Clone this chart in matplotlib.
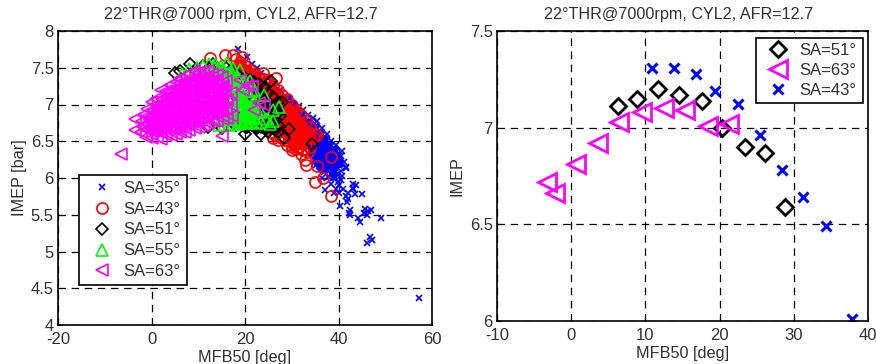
import matplotlib
matplotlib.use("Agg")
import matplotlib.pyplot as plt

plt.rcParams["font.family"] = ["Liberation Sans", "DejaVu Sans"]
plt.rcParams["text.color"] = "#303030"
plt.rcParams["axes.labelcolor"] = "#303030"

# left panel (clouds are estimates)
sa35_x = [18.5, 20.5, 21.5, 22.5, 23.5, 24.5, 25.5, 26.5, 27.5, 28.5, 29.5, 30.5, 31.5, 32.5, 33.5, 34.5, 35.5,
          36.5, 37.5, 38.5, 39.5, 40.5,
          30.5, 31.5, 32.5, 33.5, 34.5, 35.5, 36.5, 37.5, 38.5, 39.5, 40.2, 41.2,
          32.2, 33.2, 34.2, 35.2, 36.2, 37.2, 38.2, 39.2, 40.2,
          33.1, 34.1, 35.1, 36.1, 37.1, 38.1, 39.1,
          33.6, 34.6, 35.6, 36.6, 37.6, 38.6, 39.6, 40.6,
          34.3, 35.3, 36.3, 37.3, 38.3, 39.3, 40.3,
          34.8, 35.8, 36.8, 37.8, 38.8, 39.8, 40.8, 41.6,
          35.6, 36.6, 37.6, 38.6, 39.6, 40.6,
          35.2, 36.5, 37.2, 38.0, 38.4, 39.0, 39.5, 40.0, 40.1, 40.4, 41.0, 41.5,
          41.8, 42.0, 42.2, 42.4, 42.5, 43.0, 43.1, 43.5, 43.8, 44.2, 44.6, 45.0, 45.5, 45.7, 46.2, 46.4, 47.0, 46.2,
          46.8, 47.1, 49.0, 57.2, 40.8, 41.6, 42.0, 43.2]
sa35_y = [7.76, 7.65, 7.55, 7.5, 7.43, 7.38, 7.32, 7.25, 7.2, 7.12, 7.05, 7.0, 6.98, 6.92, 6.86, 6.82, 6.78,
          6.68, 6.6, 6.5, 6.45, 6.3,
          6.95, 6.88, 6.82, 6.76, 6.72, 6.66, 6.58, 6.52, 6.44, 6.36, 6.3, 6.22,
          6.75, 6.66, 6.6, 6.52, 6.45, 6.4, 6.33, 6.25, 6.18,
          6.62, 6.54, 6.46, 6.38, 6.3, 6.22, 6.15,
          6.5, 6.42, 6.34, 6.26, 6.18, 6.1, 6.05, 6.1,
          6.36, 6.28, 6.2, 6.12, 6.05, 6.0, 6.2,
          6.25, 6.16, 6.08, 6.02, 6.0, 5.94, 6.03, 6.13,
          6.45, 6.55, 6.45, 6.35, 6.28, 5.97,
          6.18, 6.0, 5.83, 6.02, 5.92, 5.8, 5.85, 5.9, 5.8, 5.62, 5.85, 5.76,
          5.67, 5.72, 5.53, 5.5, 5.57, 5.85, 5.92, 5.78, 5.9, 5.45, 5.4, 5.78, 5.52, 5.58, 5.5, 5.55, 5.56, 5.12,
          5.2, 5.15, 5.46, 4.37, 6.37, 6.15, 5.8, 5.86]
# densest part of each cloud
sa35_core_x = [29, 30, 31, 32, 33, 33, 34, 34, 34, 35, 35, 35, 35, 36, 36, 36, 36, 36, 37, 37, 37, 37, 37,
               38, 38, 38, 38, 39, 39, 39, 39, 40, 33.5, 34.5, 35.5, 36.5, 37.5, 38.5]
sa35_core_y = [7.08, 7.0, 6.9, 6.85, 6.75, 6.65, 6.72, 6.62, 6.52, 6.68, 6.58, 6.48, 6.38, 6.6, 6.5, 6.4, 6.3, 6.2,
               6.52, 6.42, 6.32, 6.22, 6.12, 6.45, 6.35, 6.25, 6.15, 6.38, 6.28, 6.18, 6.08, 6.2,
               6.45, 6.35, 6.25, 6.15, 6.3, 6.2]

sa43_x = [12.5, 15.7, 17.5, 19.3, 23.8, 26.7, 38.5, 38.3, 35.0, 36.7, 35.4, 33.0, 32.8, 32.5, 30.0,
          18.0, 19.0, 20.0, 21.0, 22.0, 23.0, 24.0, 25.0, 26.0, 27.0, 28.0, 29.0, 30.0, 31.0, 32.0, 33.0, 34.0, 35.0,
          19.5, 20.5, 21.5, 22.5, 23.5, 24.5, 25.5, 26.5, 27.5, 28.5, 29.5, 30.5, 31.5, 32.5, 33.5, 34.5, 35.5,
          21.0, 22.0, 23.0, 24.0, 25.0, 26.0, 27.0, 28.0, 29.0, 30.0, 31.0, 32.0, 33.0, 34.0,
          24.5, 25.5, 26.5, 27.5, 28.5, 29.5, 30.5, 31.5, 32.5, 33.5,
          26.0, 27.0, 28.0, 29.0, 30.0, 31.0, 32.0, 27.5, 28.5, 29.5, 30.5, 31.5, 30.8, 31.8]
sa43_y = [7.63, 7.68, 7.68, 7.65, 7.43, 7.36, 6.29, 5.75, 5.95, 6.0, 6.17, 6.18, 6.25, 6.4, 6.38,
          7.62, 7.58, 7.52, 7.47, 7.42, 7.38, 7.35, 7.3, 7.25, 7.2, 7.13, 7.07, 7.0, 6.93, 6.86, 6.78, 6.7, 6.6,
          7.45, 7.38, 7.3, 7.22, 7.15, 7.1, 7.02, 6.97, 6.95, 6.9, 6.85, 6.8, 6.72, 6.66, 6.62, 6.56, 6.58,
          7.05, 6.98, 6.92, 6.88, 6.82, 6.75, 6.7, 6.68, 6.66, 6.62, 6.55, 6.52, 6.47, 6.42,
          6.68, 6.62, 6.58, 6.56, 6.52, 6.5, 6.45, 6.42, 6.38, 6.35,
          6.55, 6.52, 6.54, 6.45, 6.42, 6.4, 6.32, 6.82, 6.75, 6.72, 6.6, 6.55, 6.9, 6.75]
sa43_core_x = [19, 20.5, 22, 23.5, 25, 26.5, 28, 29, 30, 31, 32, 33, 34,
               27, 28, 29, 30, 31, 32, 28.5, 27.5, 26, 29.5, 30.5]
sa43_core_y = [7.55, 7.45, 7.38, 7.3, 7.22, 7.15, 7.05, 6.95, 6.88, 6.78, 6.7, 6.62, 6.55,
               6.95, 6.85, 6.75, 6.65, 6.55, 6.48, 6.62, 6.72, 7.05, 6.55, 6.45]

sa51_x = [5.0, 6.2, 8.2, 9.5, 11.0, 12.3, 13.2, 14.0,
          20.0, 25.5, 28.0, 29.5, 34.3, 28.3, 27.0, 23.5, 25.0, 22.5,
          16.0, 17.0, 18.0, 19.0, 20.0, 21.0, 22.0, 23.0, 24.0, 25.0, 26.0, 27.0,
          17.5, 18.5, 19.5, 20.5, 21.5, 22.5, 23.5, 24.5, 25.5, 26.5, 27.5,
          18.0, 19.0, 20.0, 21.0, 22.0, 23.0, 24.0, 25.0, 26.0, 27.0,
          19.5, 20.5, 21.5, 22.5, 23.5, 24.5, 25.5, 26.5, 12.0, 15.0, 18.0, 21.0, 24.0]
sa51_y = [7.43, 7.45, 7.55, 7.48, 7.53, 7.5, 7.55, 7.5,
          6.6, 7.32, 7.03, 6.67, 6.46, 6.55, 6.62, 6.6, 6.62, 6.68,
          7.5, 7.47, 7.42, 7.38, 7.36, 7.33, 7.3, 7.28, 7.22, 7.16, 7.1, 7.03,
          6.75, 6.8, 6.86, 6.9, 6.94, 7.0, 7.05, 7.0, 6.97, 6.9, 6.85,
          7.1, 7.15, 7.2, 7.15, 7.08, 6.88, 6.82, 6.9, 6.75, 6.72,
          6.72, 6.7, 6.72, 6.72, 6.7, 6.68, 6.68, 6.65, 6.7, 6.68, 6.72, 6.78, 6.76]
sa51_core_x = [19, 21, 23, 25, 26.5, 22, 23, 24, 25, 26, 24, 22.5, 27, 20, 22, 24, 26]
sa51_core_y = [6.75, 6.78, 6.75, 6.75, 6.8, 7.22, 7.18, 7.08, 7.03, 6.95, 6.95, 6.85, 6.9, 6.7, 6.7, 6.7, 6.68]

sa55_x = [6.5, 8.0, 9.8, 11.0, 12.4, 13.6, 14.8, 16.2, 17.4, 19.0, 20.2, 21.0, 22.0, 24.0, 26.0, 27.3,
          22.5, 24.5, 26.0, 23.5, 25.4,
          13.5, 14.5, 15.5, 16.5, 17.5, 18.5, 19.5, 20.5, 21.5,
          14.0, 15.0, 16.0, 17.0, 18.0, 19.0, 20.0, 21.0, 22.0,
          15.5, 16.5, 17.5, 18.5, 19.5, 20.5, 21.5, 22.5,
          16.0, 17.0, 18.0, 19.0, 20.0, 21.0, 22.0,
          15.0, 16.0, 17.0, 18.0, 19.0, 20.0, 21.0, 22.5, 23.5,
          14.5, 15.5, 16.5, 17.5, 18.5, 19.5, 20.5, 21.5, -1.5, 1.0]
sa55_y = [7.42, 7.48, 7.5, 7.52, 7.55, 7.55, 7.52, 7.57, 7.5, 7.47, 7.3, 7.32, 7.2, 7.13, 6.92, 6.96,
          6.75, 6.8, 6.77, 6.76, 6.74,
          7.5, 7.48, 7.45, 7.43, 7.4, 7.36, 7.3, 7.25, 7.18,
          7.3, 7.3, 7.33, 7.3, 7.27, 7.23, 7.18, 7.12, 7.05,
          7.15, 7.12, 7.1, 7.08, 7.04, 7.0, 6.95, 6.92,
          6.98, 6.96, 6.94, 6.92, 6.88, 6.85, 6.82,
          6.85, 6.82, 6.8, 6.8, 6.78, 6.76, 6.76, 6.92, 6.9,
          6.72, 6.72, 6.72, 6.73, 6.74, 6.75, 6.75, 6.76, 6.72, 6.68]
sa55_core_x = [16.5, 18, 19, 20, 21, 18, 19.5, 17, 21, 16.5, 18, 15.5, 22, 14.5, 12.5]
sa55_core_y = [7.42, 7.3, 7.15, 7.05, 6.95, 7.05, 6.9, 6.9, 6.85, 7.2, 6.85, 6.8, 6.95, 7.42, 7.46]

sa63_x = [-6.5, -3.5, -3.5, 15.0, 2.0,
          -2.2, -1.9, -2.1, -1.8,
          -1.1, -0.9, -1.2, -0.8, -1.0,
          0.1, -0.2, 0.2, -0.1, 0.2, 0.0,
          1.2, 0.9, 1.1, 0.8, 1.2, 0.9, 1.0,
          2.1, 1.9, 2.2, 1.8, 2.1, 1.9, 2.2,
          3.2, 2.9, 3.1, 2.8, 3.2, 2.9, 3.1, 3.0,
          4.1, 3.9, 4.2, 3.8, 4.1, 3.9, 4.2, 3.8, 4.0,
          5.2, 4.9, 5.1, 4.8, 5.2, 4.9, 5.1, 4.8, 5.2,
          6.1, 5.9, 6.2, 5.8, 6.1, 5.9, 6.2, 5.8, 6.1, 5.9,
          7.2, 6.9, 7.1, 6.8, 7.2, 6.9, 7.1, 6.8, 7.2, 7.0,
          8.1, 7.9, 8.2, 7.8, 8.1, 7.9, 8.2, 7.8, 8.1, 8.0,
          9.2, 8.9, 9.1, 8.8, 9.2, 8.9, 9.1, 8.8, 9.2, 9.0,
          10.1, 9.9, 10.2, 9.8, 10.1, 9.9, 10.2, 9.8, 10.1,
          11.2, 10.9, 11.1, 10.8, 11.2, 10.9, 11.1, 10.8, 11.0,
          12.1, 11.9, 12.2, 11.8, 12.1, 11.9, 12.2, 11.8, 12.0,
          13.2, 12.9, 13.1, 12.8, 13.2, 12.9, 13.1, 13.0,
          14.1, 13.9, 14.2, 13.8, 14.1, 13.9, 14.0,
          15.2, 14.9, 15.1, 14.8, 15.2, 15.0,
          16.1, 15.9, 16.2, 15.8, 16.0,
          17.2, 16.9, 17.1, 19.0, 20.5, 21.5, 23.0, 24.0, 19.5, 22.0]
sa63_y = [6.32, 6.8, 6.65, 6.57, 7.2,
          6.62, 6.70, 6.78, 6.86,
          6.56, 6.65, 6.74, 6.84, 6.94,
          6.55, 6.64, 6.73, 6.83, 6.93, 7.03,
          6.56, 6.64, 6.72, 6.81, 6.90, 6.99, 7.08,
          6.53, 6.63, 6.72, 6.81, 6.90, 6.99, 7.08,
          6.58, 6.66, 6.75, 6.84, 6.92, 7.01, 7.10, 7.19,
          6.58, 6.67, 6.76, 6.84, 6.93, 7.01, 7.10, 7.19, 7.27,
          6.60, 6.68, 6.77, 6.85, 6.94, 7.02, 7.11, 7.2, 7.31,
          6.62, 6.70, 6.79, 6.87, 6.96, 7.04, 7.13, 7.21, 7.29, 7.35,
          6.63, 6.72, 6.80, 6.89, 6.97, 7.06, 7.14, 7.23, 7.31, 7.39,
          6.65, 6.74, 6.82, 6.91, 6.99, 7.08, 7.16, 7.25, 7.33, 7.42,
          6.68, 6.76, 6.85, 6.93, 7.01, 7.10, 7.18, 7.27, 7.36, 7.45,
          6.70, 6.79, 6.88, 6.97, 7.06, 7.15, 7.24, 7.33, 7.44,
          6.72, 6.81, 6.90, 6.99, 7.07, 7.16, 7.25, 7.34, 7.45,
          6.75, 6.83, 6.92, 7.01, 7.09, 7.18, 7.27, 7.36, 7.45,
          6.78, 6.87, 6.96, 7.05, 7.14, 7.23, 7.32, 7.42,
          6.78, 6.88, 6.98, 7.08, 7.19, 7.30, 7.40,
          6.80, 6.91, 7.02, 7.13, 7.25, 7.37,
          6.82, 6.94, 7.06, 7.18, 7.32,
          6.85, 7.0, 7.15, 7.33, 7.25, 7.25, 7.02, 7.0, 7.2, 6.92]
sa63_core_x = [-0.5, -0.5, 1, 1, 1, 3, 3, 3, 3, 5, 5, 5, 5, 5, 7, 7, 7, 7, 7, 9, 9, 9, 9, 9,
               11, 11, 11, 11, 11, 13, 13, 13, 13, 15, 15, 15, 2, 4, 6, 8, 10, 12, 14, 2, 4, 6, 8, 10, 12, 14]
sa63_core_y = [6.7, 6.8, 6.68, 6.8, 6.95, 6.7, 6.85, 7.0, 7.1, 6.72, 6.86, 7.0, 7.15, 7.22,
               6.76, 6.9, 7.05, 7.2, 7.3, 6.8, 6.95, 7.1, 7.25, 7.36,
               6.85, 7.0, 7.15, 7.3, 7.38, 6.9, 7.05, 7.2, 7.33, 6.92, 7.08, 7.25,
               6.75, 6.78, 6.82, 6.85, 6.9, 6.95, 7.0, 6.92, 7.05, 7.1, 7.12, 7.18, 7.25, 7.18]

# right panel
avg51_x = [6.3, 8.9, 11.7, 14.5, 17.6, 20.3, 23.4, 26.1, 28.8]
avg51_y = [7.11, 7.15, 7.2, 7.17, 7.14, 7.0, 6.9, 6.87, 6.59]
avg63_x = [-3.2, -2.2, 0.7, 3.6, 6.5, 9.5, 12.5, 15.4, 18.4, 21.2]
avg63_y = [6.72, 6.66, 6.81, 6.92, 7.03, 7.08, 7.1, 7.09, 7.01, 7.02]
avg43_x = [10.9, 13.9, 16.8, 19.4, 22.5, 25.4, 28.4, 31.2, 34.3, 37.9]
avg43_y = [7.31, 7.31, 7.28, 7.19, 7.12, 6.96, 6.78, 6.64, 6.49, 6.01]

W, H = 876, 364


def style_axes(ax, xticks, yticks, xlabels, ylabels):
    ax.set_xticks(xticks)
    ax.set_yticks(yticks)
    ax.set_xticklabels(xlabels)
    ax.set_yticklabels(ylabels)
    ax.tick_params(direction="in", length=3, width=0.8, labelsize=12, labelcolor="#303030")
    ax.tick_params(axis="x", pad=5)
    ax.tick_params(axis="y", pad=3)
    ax.grid(True, color="black", linestyle=(0, (6, 4.5)), linewidth=0.9)
    ax.set_axisbelow(True)
    for s in ax.spines.values():
        s.set_linewidth(1.2)
        s.set_color("black")


fig = plt.figure(figsize=(W / 100, H / 100), dpi=100)

# left panel
ax1 = fig.add_axes([58 / W, 1 - 325 / H, 374 / W, 294 / H])
ax1.plot(sa35_x, sa35_y, "x", color="#0000ff", ms=4, mew=1.2, label="SA=35°")
ax1.plot(sa35_core_x, sa35_core_y, "x", color="#0000ff", ms=6, mew=3)
ax1.plot(sa43_x, sa43_y, "o", color="#ff0000", mfc="none", ms=8, mew=1.2, label="SA=43°")
ax1.plot(sa43_core_x, sa43_core_y, "o", color="#ff0000", ms=8)
ax1.plot(sa51_x, sa51_y, "D", color="black", mfc="none", ms=6, mew=1.2, label="SA=51°")
ax1.plot(sa51_core_x, sa51_core_y, "D", color="black", ms=6)
ax1.plot(sa55_x, sa55_y, "^", color="#00ff00", mfc="none", ms=8.5, mew=1.2, label="SA=55°")
ax1.plot(sa55_core_x, sa55_core_y, "^", color="#00ff00", ms=8.5)
ax1.plot(sa63_x, sa63_y, "<", color="#ff00ff", mfc="none", ms=8.5, mew=1.2, label="SA=63°")
ax1.plot(sa63_core_x, sa63_core_y, "<", color="#ff00ff", ms=8.5)
ax1.set_xlim(-20, 60)
ax1.set_ylim(4, 8)
style_axes(ax1, [-20, 0, 20, 40, 60], [4, 4.5, 5, 5.5, 6, 6.5, 7, 7.5, 8],
           ["-20", "0", "20", "40", "60"], ["4", "4.5", "5", "5.5", "6", "6.5", "7", "7.5", "8"])
ax1.set_xlabel("MFB50 [deg]", fontsize=11.7, labelpad=2)
ax1.set_ylabel("IMEP [bar]", fontsize=11.7, labelpad=3)
ax1.set_title("22°THR@7000 rpm, CYL2, AFR=12.7", fontsize=11.6, pad=9, x=0.49)
leg1 = ax1.legend(loc="lower left", bbox_to_anchor=(79 / W, 1 - 285 / H, 108 / W, 110 / H),
                  bbox_transform=fig.transFigure, mode="expand", borderaxespad=0, fancybox=False,
                  framealpha=1, edgecolor="black", fontsize=12, numpoints=1, labelspacing=0.35,
                  handletextpad=0.3, borderpad=0.35, handlelength=2.0)
leg1.get_frame().set_linewidth(1.2)

# right panel
ax2 = fig.add_axes([497 / W, 1 - 321 / H, 371 / W, 290 / H])
ax2.plot(avg51_x, avg51_y, "D", color="black", mfc="none", ms=8.3, mew=2, label="SA=51°")
ax2.plot(avg63_x, avg63_y, "<", color="#ff00ff", mfc="none", ms=12.5, mew=2, label="SA=63°")
ax2.plot(avg43_x, avg43_y, "x", color="#0000ff", ms=7, mew=2.2, label="SA=43°")
ax2.set_xlim(-10, 40)
ax2.set_ylim(6, 7.5)
style_axes(ax2, [-10, 0, 10, 20, 30, 40], [6, 6.5, 7, 7.5],
           ["-10", "0", "10", "20", "30", "40"], ["6", "6.5", "7", "7.5"])
ax2.set_xlabel("MFB50 [deg]", fontsize=11.7, labelpad=2)
ax2.set_ylabel("IMEP", fontsize=11.7, labelpad=4)
ax2.set_title("22°THR@7000rpm, CYL2, AFR=12.7", fontsize=11.6, pad=9, x=0.49)
leg2 = ax2.legend(loc="lower left", bbox_to_anchor=(756 / W, 1 - 103 / H, 107 / W, 67 / H),
                  bbox_transform=fig.transFigure, mode="expand", borderaxespad=0, fancybox=False,
                  framealpha=1, edgecolor="black", fontsize=12, numpoints=1, labelspacing=0.3,
                  handletextpad=0.3, borderpad=0.3, handlelength=2.0)
leg2.get_frame().set_linewidth(1.2)

fig.savefig("out.png", dpi=100)
